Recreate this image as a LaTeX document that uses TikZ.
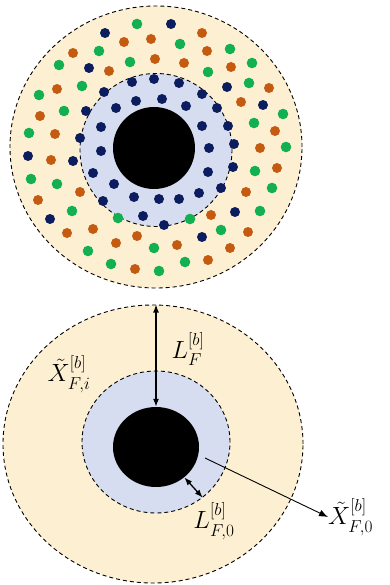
\documentclass[tikz,border=0pt]{standalone}
\usepackage{amsmath,amssymb}
\usepackage{xcolor}
\usepackage{tikz}
\usetikzlibrary{arrows.meta,shapes.geometric}

\definecolor{creamfill}{HTML}{FDF0D2}
\definecolor{bluefill}{HTML}{D6DDF1}
\definecolor{navydot}{HTML}{0B1D5E}
\definecolor{orangedot}{HTML}{C55A11}
\definecolor{greendot}{HTML}{12B050}

\begin{document}
\begin{tikzpicture}[
    x=1pt, y=-1pt,
    ring/.style={draw, ellipse, inner sep=0pt, line width=0.9pt,
                 dash pattern=on 4pt off 3pt},
    outerring/.style={ring, fill=creamfill},
    innerring/.style={ring, fill=bluefill},
    core/.style={ellipse, fill=black, inner sep=0pt},
    dblarr/.style={{Latex[length=8pt,width=6pt]}-{Latex[length=8pt,width=6pt]}, line width=1.3pt},
    arr/.style={-{Latex[length=9pt,width=7pt]}, line width=0.9pt},
    lbl/.style={inner sep=0pt, font=\fontsize{27}{31}\selectfont}
]
\useasboundingbox (0,0) rectangle (390,585);

%% Top: fibre cross-section with particles
\node[outerring, minimum width=292pt, minimum height=282pt] (outerA) at (156,147) {};
\node[innerring, minimum width=152pt, minimum height=153pt] (innerA) at (156,150) {};
\node[core, minimum width=82pt, minimum height=82pt] (coreA) at (154,148) {};

\foreach \x/\y in {171/24,105/33,89/68,132/82,154/79,179/83,227/87,104/92,202/94,
    136/101,162/99,86/111,116/108,186/106,217/108,263/105,101/127,202/126,228/126,
    80/138,234/144,209/148,101/151,28/156,73/161,233/167,93/173,208/172,114/184,
    199/193,221/188,134/197,159/199,179/199,103/201,235/212,50/219,143/216,164/225,202/237}
  \fill[navydot] (\x,\y) circle (5pt);
\foreach \x/\y in {202/33,124/42,151/39,73/53,207/51,155/59,184/63,109/71,231/67,
    269/88,57/89,241/102,40/116,275/131,55/134,260/148,51/160,277/168,80/192,246/192,
    38/200,211/215,93/229,248/232,67/233,137/236,116/243,177/245,230/248,135/269,208/260}
  \fill[orangedot] (\x,\y) circle (5pt);
\foreach \x/\y in {137/24,180/44,99/51,230/49,59/65,130/62,208/72,252/63,249/83,
    82/86,39/95,283/114,64/111,254/123,29/133,286/147,255/171,31/179,57/184,272/188,
    72/211,260/211,118/218,190/219,221/230,88/251,154/248,111/264,159/271,185/262}
  \fill[greendot] (\x,\y) circle (5.3pt);

%% Bottom: layer thicknesses
\node[outerring, minimum width=300pt, minimum height=278pt] (outerB) at (153,444) {};
\node[innerring, minimum width=148pt, minimum height=142pt] (innerB) at (156,442) {};
\node[core, minimum width=86pt, minimum height=80pt] (coreB) at (156,447) {};

\draw[dblarr] (coreB.north |- outerB.north) -- (coreB.north);
\draw[dblarr] (coreB.-47) -- (innerB.-50);

%% Labels
\node[lbl] (lf) at (188,349) {$L_F^{[b]}$};
\node[lbl] (xfi) at (69,374) {$\tilde{X}_{F,i}^{[b]}$};
\node[lbl] (lf0) at (214,521) {$L_{F,0}^{[b]}$};
\node[lbl, anchor=west] (xf0) at (328,517) {$\tilde{X}_{F,0}^{[b]}$};

\coordinate (tail) at (205,458);
\draw[arr] (tail) -- (xf0.west);

\end{tikzpicture}
\end{document}
